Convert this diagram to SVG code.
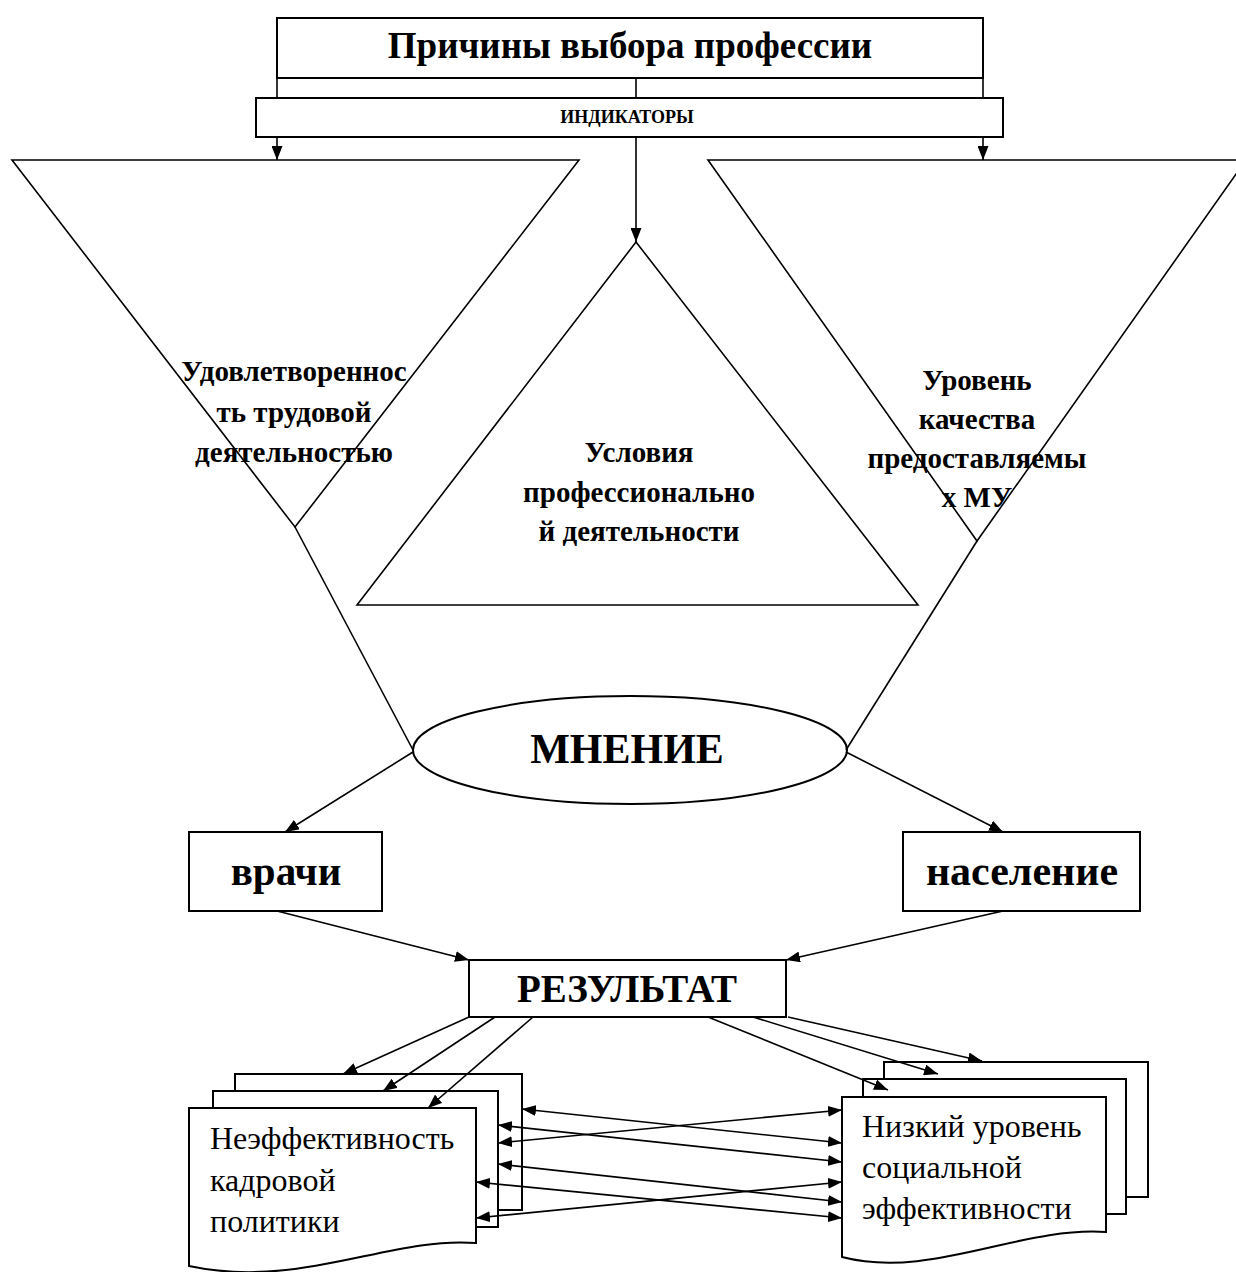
<svg xmlns="http://www.w3.org/2000/svg" width="1236" height="1272" viewBox="0 0 1236 1272">
<defs>
<marker id="ah" viewBox="0 0 14 11" refX="14" refY="5.5" markerWidth="14" markerHeight="11" markerUnits="userSpaceOnUse" orient="auto-start-reverse">
<path d="M0,0 L14,5.5 L0,11 Z" fill="#000"/>
</marker>
<style>
.s{fill:#fff;stroke:#000;stroke-width:2}
.t{fill:none;stroke:#000;stroke-width:1.6}
.c{fill:none;stroke:#000;stroke-width:1.6}
.b{font-family:"Liberation Serif","Times New Roman",serif;font-weight:bold;fill:#000;text-anchor:middle}
.r{font-family:"Liberation Serif","Times New Roman",serif;fill:#000}
</style>
</defs>
<rect width="1236" height="1272" fill="#fff"/>

<g id="title">
<rect class="s" x="277" y="18" width="706" height="60"/>
<text class="b" x="630" y="58" font-size="37">Причины выбора профессии</text>
</g>
<g id="indicators">
<rect class="s" x="256" y="98" width="747" height="39"/>
<text class="b" x="627" y="123" font-size="18">ИНДИКАТОРЫ</text>
</g>

<g id="tri-left">
<polygon class="t" points="12,160 579,160 295,527"/>
<text class="b" font-size="29"><tspan x="294" y="381">Удовлетвореннос</tspan><tspan x="294" y="422">ть трудовой</tspan><tspan x="294" y="462">деятельностью</tspan></text>
</g>
<g id="tri-mid">
<polygon class="t" points="636,242 918,605 357,605"/>
<text class="b" font-size="29"><tspan x="639" y="462">Условия</tspan><tspan x="639" y="502">профессионально</tspan><tspan x="639" y="541">й деятельности</tspan></text>
</g>
<g id="tri-right">
<polygon class="t" points="708,160 1246,160 977,541"/>
<text class="b" font-size="29"><tspan x="977" y="390">Уровень</tspan><tspan x="977" y="429">качества</tspan><tspan x="977" y="468">предоставляемы</tspan><tspan x="977" y="507">х МУ</tspan></text>
</g>

<g id="opinion">
<ellipse class="s" cx="630" cy="750" rx="217" ry="54"/>
<text class="b" x="627" y="763" font-size="42">МНЕНИЕ</text>
</g>
<g id="doctors">
<rect class="s" x="189" y="832" width="193" height="79"/>
<text class="b" x="286" y="885" font-size="41">врачи</text>
</g>
<g id="population">
<rect class="s" x="903" y="832" width="237" height="79"/>
<text class="b" x="1022" y="885" font-size="42">население</text>
</g>
<g id="result">
<rect class="s" x="469" y="960" width="317" height="57"/>
<text class="b" x="627" y="1002" font-size="39">РЕЗУЛЬТАТ</text>
</g>

<g id="doc-left">
<rect class="s" x="235" y="1074" width="287" height="136"/>
<rect class="s" x="213" y="1091" width="285" height="136"/>
<path class="s" d="M189,1108 H476 V1243 C390,1236 300,1290 189,1266 Z"/>
<text class="r" font-size="32"><tspan x="210" y="1149">Неэффективность</tspan><tspan x="210" y="1191">кадровой</tspan><tspan x="210" y="1232">политики</tspan></text>
</g>
<g id="doc-right">
<rect class="s" x="884" y="1062" width="264" height="135"/>
<rect class="s" x="863" y="1079" width="263" height="135"/>
<path class="s" d="M842,1097 H1106 V1232 C1020,1226 930,1280 842,1257 Z"/>
<text class="r" font-size="32"><tspan x="862" y="1137">Низкий уровень</tspan><tspan x="862" y="1178">социальной</tspan><tspan x="862" y="1219">эффективности</tspan></text>
</g>

<g id="connectors">
<line class="c" x1="277" y1="78" x2="277" y2="98"/>
<line class="c" x1="636" y1="78" x2="636" y2="98"/>
<line class="c" x1="983" y1="78" x2="983" y2="98"/>
<line class="c" x1="277" y1="137" x2="277" y2="160" marker-end="url(#ah)"/>
<line class="c" x1="983" y1="137" x2="983" y2="160" marker-end="url(#ah)"/>
<line class="c" x1="636" y1="137" x2="636" y2="242" marker-end="url(#ah)"/>
<line class="c" x1="295" y1="527" x2="413" y2="750"/>
<line class="c" x1="977" y1="541" x2="846" y2="750"/>
<line class="c" x1="413" y1="752" x2="285" y2="832" marker-end="url(#ah)"/>
<line class="c" x1="846" y1="752" x2="1003" y2="832" marker-end="url(#ah)"/>
<line class="c" x1="277" y1="911" x2="469" y2="960" marker-end="url(#ah)"/>
<line class="c" x1="1003" y1="911" x2="786" y2="960" marker-end="url(#ah)"/>
<line class="c" x1="469" y1="1017" x2="343" y2="1074" marker-end="url(#ah)"/>
<line class="c" x1="495" y1="1017" x2="383" y2="1091" marker-end="url(#ah)"/>
<line class="c" x1="533" y1="1017" x2="428" y2="1108" marker-end="url(#ah)"/>
<line class="c" x1="708" y1="1017" x2="888" y2="1090" marker-end="url(#ah)"/>
<line class="c" x1="753" y1="1017" x2="938" y2="1074" marker-end="url(#ah)"/>
<line class="c" x1="788" y1="1017" x2="982" y2="1061" marker-end="url(#ah)"/>
<line class="c" x1="522" y1="1109" x2="842" y2="1143" marker-start="url(#ah)" marker-end="url(#ah)"/>
<line class="c" x1="498" y1="1143" x2="842" y2="1110" marker-start="url(#ah)" marker-end="url(#ah)"/>
<line class="c" x1="498" y1="1125" x2="842" y2="1162" marker-start="url(#ah)" marker-end="url(#ah)"/>
<line class="c" x1="498" y1="1164" x2="842" y2="1202" marker-start="url(#ah)" marker-end="url(#ah)"/>
<line class="c" x1="476" y1="1182" x2="842" y2="1218" marker-start="url(#ah)" marker-end="url(#ah)"/>
<line class="c" x1="476" y1="1218" x2="842" y2="1182" marker-start="url(#ah)" marker-end="url(#ah)"/>
</g>
</svg>
